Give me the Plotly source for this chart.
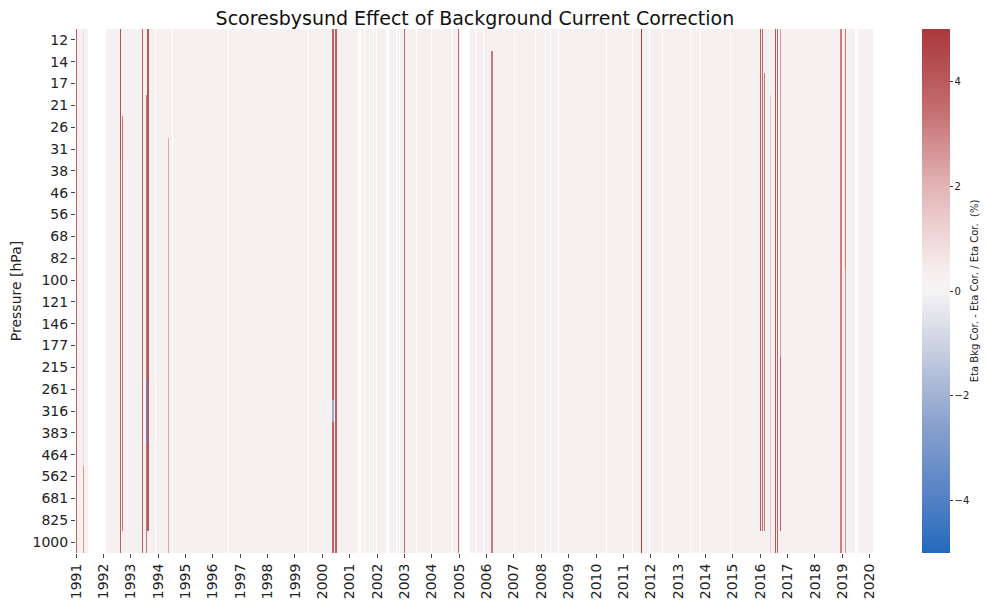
import numpy as np
import plotly.graph_objects as go

# pressure levels (rows, top to bottom)
pressure = ["12", "14", "17", "21", "26", "31", "38", "46", "56", "68", "82", "100",
            "121", "146", "177", "215", "261", "316", "383", "464", "562", "681", "825", "1000"]
years = list(range(1991, 2021))

# most soundings: tiny positive change (%)
base_value = 0.18

# periods with no soundings (decimal years)
gap_start = [1991.42, 1993.90, 1994.50, 1996.55, 1997.56, 1999.17, 1999.49, 2001.30, 2001.54,
             2001.70, 2001.84, 2001.97, 2002.09, 2002.33, 2002.69, 2002.81, 2003.43, 2003.98,
             2004.74, 2005.04, 2005.62, 2005.87, 2006.55, 2007.00, 2007.77, 2008.14, 2008.32,
             2008.60, 2010.38, 2011.33, 2011.94, 2012.40, 2013.43, 2013.80, 2014.04, 2014.90,
             2015.10, 2015.83, 2017.33, 2018.24, 2019.46]
gap_end = [1992.08, 1993.93, 1994.54, 1996.58, 1997.59, 1999.20, 1999.52, 2001.42, 2001.57,
           2001.73, 2001.87, 2002.00, 2002.12, 2002.45, 2002.72, 2002.84, 2003.46, 2004.01,
           2004.77, 2005.39, 2005.65, 2005.90, 2006.58, 2007.03, 2007.80, 2008.18, 2008.36,
           2008.63, 2010.41, 2011.36, 2011.97, 2012.43, 2013.46, 2013.83, 2014.07, 2014.93,
           2015.13, 2015.86, 2017.36, 2018.27, 2019.58]

# soundings with a large correction effect
spike_date = [1991.02, 1991.28, 1991.28, 1992.61, 1992.61, 1992.69, 1993.44, 1993.56, 1993.63,
              1994.38, 2000.39, 2000.50, 2003.01, 2004.96, 2006.20, 2011.66, 2016.01, 2016.07,
              2016.15, 2016.38, 2016.55, 2016.62, 2016.74, 2016.74, 2018.95, 2019.10, 2019.10]
spike_top = ["12", "12", "562", "12", "38", "26", "12", "21", "12",
             "31", "12", "12", "12", "12", "14", "12", "12", "12",
             "17", "21", "12", "12", "12", "215", "12", "12", "100"]
spike_bottom = ["1000", "464", "1000", "31", "1000", "825", "1000", "1000", "825",
                "1000", "1000", "1000", "1000", "1000", "1000", "1000", "825", "825",
                "825", "1000", "1000", "1000", "177", "825", "1000", "82", "1000"]
spike_value = [3.8, 1.0, 2.6, 4.3, 3.8, 3.3, 3.8, 3.3, 4.1,
               2.3, 3.8, 3.9, 3.6, 3.6, 3.2, 4.9, 4.0, 3.8,
               3.3, 1.5, 4.2, 3.8, 2.5, 3.8, 3.1, 3.3, 2.6]

# negative segments inside those soundings
dip_date = [1993.56, 2000.39]
dip_top = ["261", "316"]
dip_bottom = ["383", "316"]
dip_value = [-3.5, -2.2]

w = 0.04
x0, x1 = 1991.0, 2020.12

edges = {x0, x1}
for a, b in zip(gap_start, gap_end):
    edges.update([a, b])
for d in spike_date:
    edges.update([max(x0, d - w / 2), d + w / 2])
edges = sorted(edges)

nrow = len(pressure)
z = np.full((nrow, len(edges) - 1), np.nan)
for j in range(len(edges) - 1):
    mid = (edges[j] + edges[j + 1]) / 2
    if not any(a <= mid < b for a, b in zip(gap_start, gap_end)):
        z[:, j] = base_value
    for d, t, b, v in zip(spike_date, spike_top, spike_bottom, spike_value):
        if abs(mid - d) < w / 2:
            z[pressure.index(t):pressure.index(b) + 1, j] = v
    for d, t, b, v in zip(dip_date, dip_top, dip_bottom, dip_value):
        if abs(mid - d) < w / 2:
            z[pressure.index(t):pressure.index(b) + 1, j] = v

vlag = [[0.0, "rgb(35,105,189)"], [0.1, "rgb(82,128,196)"], [0.25, "rgb(140,162,206)"],
        [0.4, "rgb(205,211,226)"], [0.5, "rgb(246,244,245)"], [0.55, "rgb(246,234,234)"],
        [0.7, "rgb(226,180,181)"], [0.85, "rgb(196,108,111)"], [1.0, "rgb(169,55,59)"]]

fig = go.Figure(go.Heatmap(
    z=z, x=edges, y=pressure, zmin=-5, zmax=5, colorscale=vlag,
    colorbar=dict(
        x=1.0615, xanchor="left", xpad=0, y=0.5, len=1.0, ypad=0, thickness=28,
        outlinewidth=0, ticks="outside", ticklen=3, tickcolor="#333",
        tickvals=[-4, -2, 0, 2, 4], tickfont=dict(size=10, color="#222"),
    ),
))

# page body adds an 8 px offset, so the figure is 8 px smaller each way
fig.update_layout(
    width=981, height=595,
    margin=dict(l=68, r=116, t=21, b=50, autoexpand=False),
    paper_bgcolor="white", plot_bgcolor="white",
    font=dict(family="DejaVu Sans", color="#222"),
    title=dict(text="Scoresbysund Effect of Background Current Correction",
               x=0.476, xanchor="center", y=0.983, yanchor="middle",
               font=dict(size=19, color="#111")),
)
fig.add_annotation(
    text="Eta Bkg Cor. - Eta Cor. / Eta Cor.  (%)", textangle=-90,
    xref="paper", yref="paper", x=1.127, y=0.5, xanchor="center", yanchor="middle",
    showarrow=False, font=dict(size=10, color="#222"),
)
fig.update_xaxes(
    range=[x0, x1], tickvals=years, ticktext=[str(y) for y in years],
    tickangle=-90, tickfont=dict(size=14), ticks="outside", ticklen=4,
    showgrid=False, zeroline=False, showline=False, automargin=False,
)
fig.update_yaxes(
    type="category", autorange="reversed", tickfont=dict(size=14),
    ticks="outside", ticklen=4, showgrid=False, showline=False, automargin=False,
    title=dict(text="Pressure [hPa]", font=dict(size=14), standoff=8),
)

fig.write_html("out.html")
